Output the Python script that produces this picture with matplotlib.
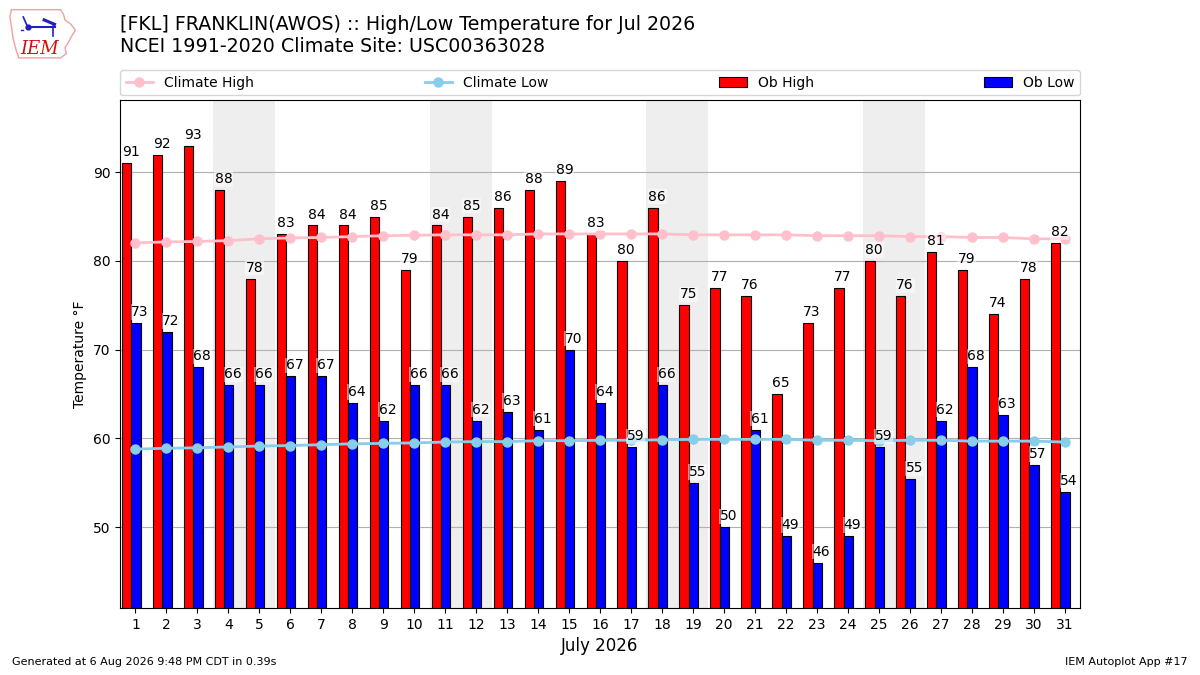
import matplotlib

matplotlib.use("Agg")
import matplotlib.pyplot as plt
from matplotlib.patches import Polygon
import numpy as np

# --- data ---
DAYS = list(range(1, 32))
OB_HIGH = [91, 92, 93, 88, 78, 83, 84, 84, 85, 79, 84, 85, 86, 88, 89, 83,
           80, 86, 75, 77, 76, 65, 73, 77, 80, 76, 81, 79, 74, 78, 82]
OB_LOW = [73, 72, 68, 66, 66, 67, 67, 64, 62, 66, 66, 62, 63, 61, 70, 64,
          59, 66, 55, 50, 61, 49, 46, 49, 59, 55.4, 62, 68, 62.6, 57, 54]
CLIMATE_HIGH = [82.05, 82.15, 82.2, 82.3, 82.5, 82.6, 82.65, 82.75, 82.85, 82.9,
                82.95, 82.95, 82.95, 83.05, 83.05, 83.05, 83.05, 83.05, 82.95, 82.95,
                82.95, 82.95, 82.85, 82.85, 82.85, 82.75, 82.75, 82.65, 82.65, 82.5, 82.5]
CLIMATE_LOW = [58.8, 58.9, 58.95, 59.05, 59.15, 59.2, 59.3, 59.4, 59.45, 59.5,
               59.6, 59.65, 59.65, 59.75, 59.75, 59.8, 59.8, 59.85, 59.9, 59.9,
               59.9, 59.9, 59.8, 59.8, 59.75, 59.8, 59.8, 59.7, 59.7, 59.7, 59.6]
WEEKEND_STARTS = [4, 11, 18, 25]

TITLE = ("[FKL] FRANKLIN(AWOS) :: High/Low Temperature for Jul 2026\n"
         "NCEI 1991-2020 Climate Site: USC00363028")


def draw_logo(fig):
    lax = fig.add_axes([0.007, 0.912, 0.062, 0.078])
    lax.set_xlim(0, 100)
    lax.set_ylim(0, 72)
    lax.axis("off")
    iowa = [(4, 68), (70, 68), (74, 62), (76, 54), (84, 48), (90, 40), (84, 30),
            (80, 22), (76, 16), (78, 8), (70, 2), (14, 2), (10, 14), (6, 30),
            (4, 46), (2, 58)]
    lax.add_patch(Polygon(iowa, closed=True, fill=False, edgecolor="#f0a0a0", lw=1.0))
    # stylised weather-station glyph
    lax.plot([26, 62], [44, 44], color="#2020c0", lw=1.5)
    lax.plot([26, 20], [44, 58], color="#2020c0", lw=1.2)
    lax.plot([26], [44], marker="o", color="#2020c0", markersize=3.5)
    lax.plot([48, 62], [54, 48], color="#2020c0", lw=2.2)
    lax.plot([60, 60], [46, 32], color="#2020c0", lw=1.2)
    lax.plot([17, 20], [40, 40], color="#2020c0", lw=1.0)
    lax.text(42, 14, "IEM", color="#d01010", fontsize=13, family="serif",
             style="italic", ha="center", va="center")


def main() -> None:
    days = np.array(DAYS)
    fig = plt.figure(figsize=(12, 6.75), dpi=100)
    ax = fig.add_axes([0.1, 0.0993, 0.8, 0.752])

    for d in WEEKEND_STARTS:
        ax.axvspan(d - 0.5, d + 1.5, color="#eeeeee", zorder=0, lw=0)

    ax.bar(days - 0.285, OB_HIGH, width=0.3, color="r", edgecolor="k",
           linewidth=0.8, label="Ob High", zorder=2)
    ax.bar(days + 0.015, OB_LOW, width=0.3, color="b", edgecolor="k",
           linewidth=0.8, label="Ob Low", zorder=2)

    ax.plot(days, CLIMATE_HIGH, color="pink", marker="o", markersize=6.5,
            lw=2, label="Climate High", zorder=3)
    ax.plot(days, CLIMATE_LOW, color="skyblue", marker="o", markersize=6.5,
            lw=2, label="Climate Low", zorder=3)

    box = dict(facecolor="white", edgecolor="none", alpha=0.5, pad=0.5)
    for d, hi, lo in zip(days, OB_HIGH, OB_LOW):
        ax.text(d - 0.435, hi + 0.45, f"{hi:.0f}", ha="left", va="bottom",
                fontsize=10, bbox=box, zorder=4)
        ax.text(d - 0.135, lo + 0.45, f"{lo:.0f}", ha="left", va="bottom",
                fontsize=10, bbox=box, zorder=4)

    ax.set_xlim(0.5, 31.5)
    ax.set_ylim(40.9, 98.1)
    ax.set_xticks(days)
    ax.set_yticks([50, 60, 70, 80, 90])
    ax.tick_params(labelsize=10)
    ax.yaxis.grid(True, color="#b0b0b0", lw=0.8)
    ax.set_axisbelow(True)
    ax.set_xlabel("July 2026", fontsize=12)
    ax.set_ylabel("Temperature °F", fontsize=10)

    handles, labels = ax.get_legend_handles_labels()
    order = ["Climate High", "Climate Low", "Ob High", "Ob Low"]
    hmap = dict(zip(labels, handles))
    ax.legend([hmap[k] for k in order], order, loc="lower left",
              bbox_to_anchor=(0, 1.01, 1, 0.05), mode="expand", ncol=4,
              fontsize=10, borderaxespad=0)

    fig.text(0.1, 0.978, TITLE, ha="left", va="top", fontsize=13.65)
    fig.text(0.01, 0.012, "Generated at 6 Aug 2026 9:48 PM CDT in 0.39s",
             fontsize=8, ha="left", va="bottom")
    fig.text(0.99, 0.012, "IEM Autoplot App #17", fontsize=8, ha="right",
             va="bottom")
    draw_logo(fig)

    fig.savefig("out.png", dpi=100)
    plt.close(fig)


if __name__ == "__main__":
    main()
